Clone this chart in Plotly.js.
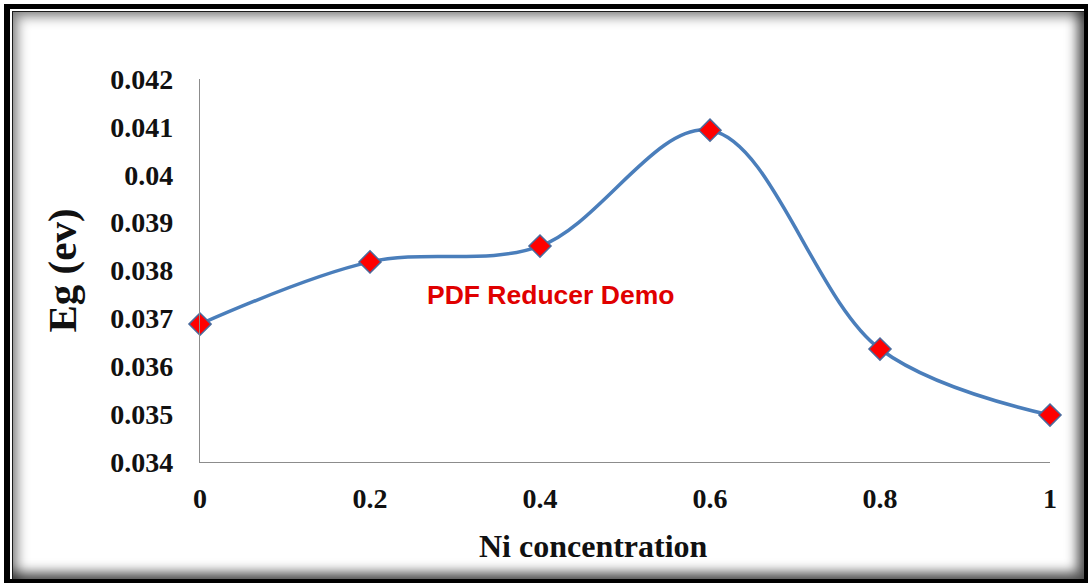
<!DOCTYPE html>
<html>
<head>
<meta charset="utf-8">
<script src="https://cdn.plot.ly/plotly-3.0.1.min.js"></script>
<style>
  html, body { margin: 0; padding: 0; background: #fff; }
  #wrap { position: relative; width: 1088px; height: 583px; overflow: hidden; background: #fff; }
  #chart { position: absolute; left: 0; top: 0; width: 1088px; height: 583px; }
  /* picture frame: thick black rule, thin inner rule and an inset shadow */
  #frame {
    position: absolute; left: 4px; top: 4px; width: 1084px; height: 579px;
    box-sizing: border-box; pointer-events: none;
    border-style: solid; border-color: #000;
    border-width: 5px 4px 4px 6px;
  }
  #frame .inner {
    position: absolute; left: 2px; top: 2px; right: 0; bottom: 0;
    border-style: solid; border-color: #1a1a1a;
    border-width: 1px 0 0 1px;
    box-shadow: inset 5px 5px 12px rgba(0,0,0,0.45), inset -7px -7px 12px rgba(0,0,0,0.65);
  }
</style>
</head>
<body>
<div id="wrap">
  <div id="chart"></div>
  <div id="frame"><div class="inner"></div></div>
</div>
<script>
// Band gap versus nickel concentration
const niConcentration = [0, 0.2, 0.4, 0.6, 0.8, 1];
const bandGap = [0.03688, 0.03818, 0.03851, 0.04093, 0.03636, 0.03498];

const xTickVals = [0, 0.2, 0.4, 0.6, 0.8, 1];
const xTickText = ['0', '0.2', '0.4', '0.6', '0.8', '1'];
const yTickVals = [0.034, 0.035, 0.036, 0.037, 0.038, 0.039, 0.040, 0.041, 0.042];
const yTickText = ['0.034', '0.035', '0.036', '0.037', '0.038', '0.039', '0.04', '0.041', '0.042'];

const serifBold = 'Liberation Serif, Times New Roman, serif';

const trace = {
  x: niConcentration,
  y: bandGap,
  type: 'scatter',
  mode: 'lines+markers',
  cliponaxis: false,
  line: { shape: 'spline', smoothing: 1, color: '#4a7ebb', width: 3.5 },
  marker: {
    symbol: 'diamond', size: 17, color: '#ff0000',
    line: { color: '#4a6a9c', width: 1.5 }
  },
  hoverinfo: 'x+y'
};

const layout = {
  width: 1088,
  height: 583,
  paper_bgcolor: '#ffffff',
  plot_bgcolor: '#ffffff',
  showlegend: false,
  margin: { l: 200, r: 38, t: 79, b: 121, pad: 0 },
  xaxis: {
    range: [0, 1],
    tickvals: xTickVals,
    ticktext: xTickText,
    showgrid: false,
    zeroline: false,
    showline: true,
    linecolor: '#8c8c8c',
    linewidth: 1.2,
    ticks: '',
    ticklabelstandoff: 11,
    tickfont: { family: serifBold, size: 28, weight: 'bold', color: '#111' },
    automargin: false
  },
  yaxis: {
    range: [0.034, 0.042],
    tickvals: yTickVals,
    ticktext: yTickText,
    showgrid: false,
    zeroline: false,
    showline: true,
    linecolor: '#8c8c8c',
    linewidth: 1.2,
    ticks: '',
    ticklabelstandoff: 20,
    tickfont: { family: serifBold, size: 28, weight: 'bold', color: '#111' },
    automargin: false,
    title: {
      text: 'Eg (ev)',
      standoff: 20,
      font: { family: serifBold, size: 41, weight: 'bold', color: '#111' }
    }
  },
  annotations: [
    {
      // x-axis title, set slightly left of the plot centre
      text: 'Ni concentration',
      xref: 'paper', yref: 'paper',
      x: 0.4624, y: -0.219,
      xanchor: 'center', yanchor: 'middle',
      showarrow: false,
      font: { family: serifBold, size: 32, weight: 'bold', color: '#111' }
    },
    {
      text: 'PDF Reducer Demo',
      xref: 'paper', yref: 'paper',
      x: 0.412, y: 0.437,
      xanchor: 'center', yanchor: 'middle',
      showarrow: false,
      font: { family: 'Liberation Sans, Arial, sans-serif', size: 26.5, weight: 'bold', color: '#e00000' }
    }
  ]
};

Plotly.newPlot('chart', [trace], layout, { displayModeBar: false, staticPlot: true });
</script>
</body>
</html>
